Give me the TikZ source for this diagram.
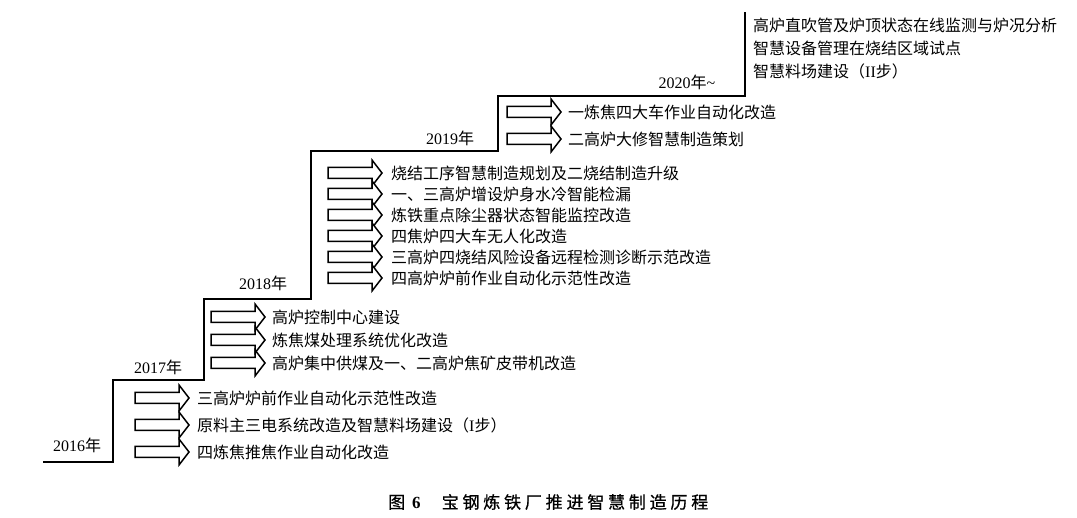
\documentclass[tikz,border=0pt]{standalone}
\usepackage{fontspec}
\setmainfont{Liberation Serif}
\newfontfamily\cjk{Noto Sans CJK SC}
\newfontfamily\capf[FakeBold=0.7]{Noto Sans CJK SC}
\newfontfamily\latf{Liberation Serif}
\tikzset{
  stair/.style={line width=1.8pt, line join=miter, line cap=rect},
  barrow/.pic={\draw[line width=1.5pt, line join=miter, fill=white]
     (0,-5.5) -- (44,-5.5) -- (44,-13) -- (54,0) -- (44,13) -- (44,5.5) -- (0,5.5) -- cycle;},
  item/.style={anchor=west, inner sep=0pt, font=\cjk\fontsize{16}{16}\selectfont},
  yr/.style={inner sep=0pt, font=\fontsize{16}{16}\selectfont},
}
\newcommand{\nian}{{\cjk 年}}
\begin{document}
\begin{tikzpicture}[x=1pt,y=-1pt]
\useasboundingbox[fill=white] (0,0) rectangle (1077,518);
% staircase
\draw[stair] (44,462) -- (113,462) -- (113,380) -- (204,380) -- (204,299) -- (311,299)
  -- (311,151) -- (498,151) -- (498,96) -- (745,96) -- (745,13);
% year labels
\node[yr] (y2016) at (77,445) {2016\nian};
\node[yr] (y2017) at (158,367) {2017\nian};
\node[yr] (y2018) at (263,283) {2018\nian};
\node[yr] (y2019) at (450,138) {2019\nian};
\node[yr] (y2020) at (687,82) {2020\nian\textasciitilde};
% 2016
\pic (a1) at (135,398) {barrow};
\pic (a2) at (135,425) {barrow};
\pic (a3) at (135,452) {barrow};
\node[item] (t1) at (197,398) {三高炉炉前作业自动化示范性改造};
\node[item] (t2) at (197,425) {原料主三电系统改造及智慧料场建设（{\latf I}步）};
\node[item] (t3) at (197,452) {四炼焦推焦作业自动化改造};
% 2017
\pic (b1) at (211,317) {barrow};
\pic (b2) at (211,340) {barrow};
\pic (b3) at (211,363) {barrow};
\node[item] (u1) at (272,317) {高炉控制中心建设};
\node[item] (u2) at (272,340) {炼焦煤处理系统优化改造};
\node[item] (u3) at (272,363) {高炉集中供煤及一、二高炉焦矿皮带机改造};
% 2018
\pic (c1) at (328,173) {barrow};
\pic (c2) at (328,194) {barrow};
\pic (c3) at (328,215) {barrow};
\pic (c4) at (328,236) {barrow};
\pic (c5) at (328,257) {barrow};
\pic (c6) at (328,278) {barrow};
\node[item] (v1) at (391,173) {烧结工序智慧制造规划及二烧结制造升级};
\node[item] (v2) at (391,194) {一、三高炉增设炉身水冷智能检漏};
\node[item] (v3) at (391,215) {炼铁重点除尘器状态智能监控改造};
\node[item] (v4) at (391,236) {四焦炉四大车无人化改造};
\node[item] (v5) at (391,257) {三高炉四烧结风险设备远程检测诊断示范改造};
\node[item] (v6) at (391,278) {四高炉炉前作业自动化示范性改造};
% 2019
\pic (d1) at (507,112) {barrow};
\pic (d2) at (507,139) {barrow};
\node[item] (w1) at (568,112) {一炼焦四大车作业自动化改造};
\node[item] (w2) at (568,139) {二高炉大修智慧制造策划};
% 2020
\node[item] (z1) at (753,25) {高炉直吹管及炉顶状态在线监测与炉况分析};
\node[item] (z2) at (753,48) {智慧设备管理在烧结区域试点};
\node[item] (z3) at (753,71) {智慧料场建设（{\latf II}步）};
% caption
\node[anchor=west, inner sep=0pt, font=\capf\fontsize{17}{17}\selectfont] (cap) at (388,502)
  {图\hspace{7pt}{\latf\bfseries 6}\hspace{21pt}宝\hspace{3.8pt}钢\hspace{3.8pt}炼\hspace{3.8pt}铁\hspace{3.8pt}厂\hspace{3.8pt}推\hspace{3.8pt}进\hspace{3.8pt}智\hspace{3.8pt}慧\hspace{3.8pt}制\hspace{3.8pt}造\hspace{3.8pt}历\hspace{3.8pt}程};
\end{tikzpicture}
\end{document}
